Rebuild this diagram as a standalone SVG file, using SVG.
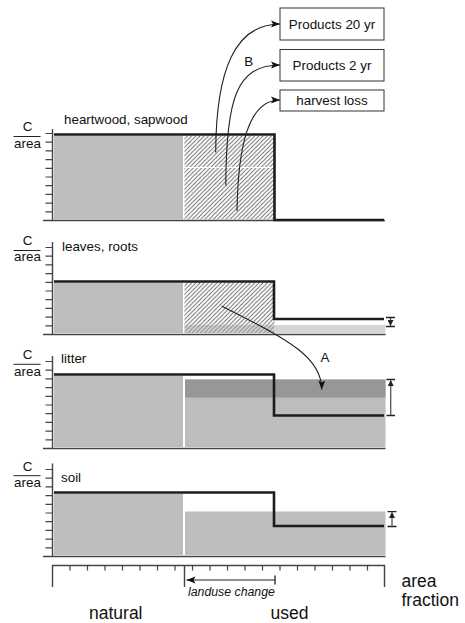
<svg xmlns="http://www.w3.org/2000/svg" width="465" height="623" viewBox="0 0 465 623">
<style>
text{font-family:"Liberation Sans",Arial,sans-serif;fill:#111}
.lab{font-size:13.4px}
.big{font-size:17.5px}
.ax{stroke:#444;stroke-width:1.4;fill:none}
.tk{stroke:#444;stroke-width:1.2;fill:none}
.step{stroke:#1c1c1c;stroke-width:2.6;fill:none}
.g{fill:#bdbdbd}
.lg{fill:#d4d4d4}
.dg{fill:#979797}
.hatch{fill:url(#hat)}
.box{fill:#fff;stroke:#333;stroke-width:1}
.con{stroke:#222;stroke-width:1.1;fill:none}
.err{stroke:#555;stroke-width:1.3;fill:none}
.cap{stroke:#222;stroke-width:1.3;fill:none}
</style>
<defs>
<pattern id="hat" patternUnits="userSpaceOnUse" width="4.2" height="4.2">
<rect width="4.2" height="4.2" fill="#fff"/>
<path d="M-1,1.05 L1.05,-1 M0,4.2 L4.2,0 M3.15,5.25 L5.25,3.15" stroke="#5e5e5e" stroke-width="0.85"/>
</pattern>
<pattern id="hatg" patternUnits="userSpaceOnUse" width="4.2" height="4.2">
<rect width="4.2" height="4.2" fill="#d4d4d4"/>
<path d="M-1,1.05 L1.05,-1 M0,4.2 L4.2,0 M3.15,5.25 L5.25,3.15" stroke="#808080" stroke-width="0.85"/>
</pattern>
<marker id="ah" markerWidth="10" markerHeight="8" refX="9" refY="4" orient="auto" markerUnits="userSpaceOnUse">
<path d="M0,0.5 L9,4 L0,7.5 L2,4 Z" fill="#111"/>
</marker>
<marker id="sa" markerWidth="6" markerHeight="6" refX="5.5" refY="3" orient="auto" markerUnits="userSpaceOnUse">
<path d="M0,0 L6,3 L0,6 Z" fill="#222"/>
</marker>
</defs>

<!-- Panel 1: heartwood, sapwood -->
<g id="panel-heartwood">
<rect class="g" x="54" y="135.8" width="129" height="83.5"/>
<rect class="hatch" x="184.5" y="135.8" width="90" height="83.5"/>
<line x1="184.5" y1="167.5" x2="273.5" y2="167.5" stroke="#fff" stroke-width="1.2"/>
<path class="ax" d="M52.5,129 V220.5 M43,220.5 H385"/>
<path class="tk" d="M45.5,133.5 H52.5 M45.5,142.2 H52.5 M45.5,150.9 H52.5 M45.5,159.6 H52.5 M45.5,168.3 H52.5 M45.5,177 H52.5 M45.5,185.7 H52.5 M45.5,194.4 H52.5 M45.5,203.1 H52.5 M45.5,211.8 H52.5"/>
<path class="step" d="M54,134.5 H274.5 V220 H384"/>
<text class="lab" x="27.5" y="131" text-anchor="middle">C</text>
<line x1="13.5" y1="136.5" x2="40.5" y2="136.5" stroke="#222" stroke-width="1"/>
<text class="lab" x="27.5" y="148" text-anchor="middle">area</text>
<text class="lab" x="64" y="124">heartwood, sapwood</text>
</g>

<!-- Panel 2: leaves, roots -->
<g id="panel-leaves">
<rect class="g" x="54" y="282.8" width="129" height="50.2"/>
<rect class="hatch" x="184.5" y="282.8" width="90" height="41.7"/>
<rect x="184.5" y="324.5" width="90" height="8.5" fill="url(#hatg)"/>
<rect class="lg" x="274.5" y="325" width="111" height="8"/>
<path class="ax" d="M52.5,242 V334.5 M43,334.5 H385.5"/>
<path class="tk" d="M45.5,247.5 H52.5 M45.5,256.2 H52.5 M45.5,264.9 H52.5 M45.5,273.6 H52.5 M45.5,282.3 H52.5 M45.5,291 H52.5 M45.5,299.7 H52.5 M45.5,308.4 H52.5 M45.5,317.1 H52.5 M45.5,325.8 H52.5"/>
<path class="step" d="M54,281.5 H274 V319 H384"/>
<text class="lab" x="27.5" y="244.5" text-anchor="middle">C</text>
<line x1="13.5" y1="250.5" x2="40.5" y2="250.5" stroke="#222" stroke-width="1"/>
<text class="lab" x="27.5" y="261" text-anchor="middle">area</text>
<text class="lab" x="62" y="250.5">leaves, roots</text>
<path class="err" d="M390.5,317.5 V325.5" marker-end="url(#sa)"/>
<path class="cap" d="M386,317.5 H395 M386,326.5 H395"/>
</g>

<!-- Panel 3: litter -->
<g id="panel-litter">
<rect class="g" x="54" y="375.8" width="129" height="71.2"/>
<rect class="g" x="185" y="379.5" width="200.5" height="67.5"/>
<rect class="dg" x="185" y="379.5" width="200.5" height="18"/>
<path class="ax" d="M52.5,356 V448.5 M43,448.5 H385.5"/>
<path class="tk" d="M45.5,361.5 H52.5 M45.5,370.2 H52.5 M45.5,378.9 H52.5 M45.5,387.6 H52.5 M45.5,396.3 H52.5 M45.5,405 H52.5 M45.5,413.7 H52.5 M45.5,422.4 H52.5 M45.5,431.1 H52.5 M45.5,439.8 H52.5"/>
<path class="step" d="M54,374.5 H274 V415.5 H384"/>
<text class="lab" x="27.5" y="358.5" text-anchor="middle">C</text>
<line x1="13.5" y1="364.3" x2="40.5" y2="364.3" stroke="#222" stroke-width="1"/>
<text class="lab" x="27.5" y="375.5" text-anchor="middle">area</text>
<text class="lab" x="61" y="362.5">litter</text>
<path class="err" d="M390.7,415.5 V380.5" marker-end="url(#sa)"/>
<path class="cap" d="M386.5,379.5 H395 M386.5,415.5 H395"/>
</g>

<!-- Panel 4: soil -->
<g id="panel-soil">
<rect class="g" x="54" y="493.8" width="129" height="61.2"/>
<rect class="g" x="185" y="511.5" width="200.5" height="43.5"/>
<path class="ax" d="M52.5,463.5 V556.5 M43,556.5 H385.5"/>
<path class="tk" d="M45.5,469.5 H52.5 M45.5,478.2 H52.5 M45.5,486.9 H52.5 M45.5,495.6 H52.5 M45.5,504.3 H52.5 M45.5,513 H52.5 M45.5,521.7 H52.5 M45.5,530.4 H52.5 M45.5,539.1 H52.5 M45.5,547.8 H52.5"/>
<path class="step" d="M54,492.5 H274 V526 H384"/>
<text class="lab" x="27.5" y="470.5" text-anchor="middle">C</text>
<line x1="13.5" y1="475.7" x2="40.5" y2="475.7" stroke="#222" stroke-width="1"/>
<text class="lab" x="27.5" y="487" text-anchor="middle">area</text>
<text class="lab" x="61" y="482">soil</text>
<path class="err" d="M392,526.5 V512.5" marker-end="url(#sa)"/>
<path class="cap" d="M387.5,511.7 H396.5 M387.5,526.5 H396.5"/>
</g>

<!-- Product boxes -->
<g id="box-products20">
<rect class="box" x="280" y="8" width="104" height="32"/>
<text class="lab" x="332" y="29" text-anchor="middle">Products 20 yr</text>
</g>
<g id="box-products2">
<rect class="box" x="280" y="49.5" width="104" height="31.5"/>
<text class="lab" x="332" y="70" text-anchor="middle">Products 2 yr</text>
</g>
<g id="box-harvestloss">
<rect class="box" x="280" y="90" width="104" height="21"/>
<text class="lab" x="332" y="105.3" text-anchor="middle">harvest loss</text>
</g>

<!-- Area fraction axis -->
<g id="area-axis">
<path class="ax" d="M52.5,587 V565.5 H384.5 V587 M184.5,565.5 V587"/>
<path class="tk" d="M70,565.5 v5 M87.5,565.5 v5 M105,565.5 v5 M122.5,565.5 v5 M140,565.5 v5 M157.5,565.5 v5 M175,565.5 v5 M192.5,565.5 v5 M210,565.5 v5 M227.5,565.5 v5 M245,565.5 v5 M262.5,565.5 v5 M280,565.5 v5 M297.5,565.5 v5 M315,565.5 v5 M332.5,565.5 v5 M350,565.5 v5 M367.5,565.5 v5"/>
<path class="con" d="M275,580 H186.5" marker-end="url(#ah)"/>
<path class="cap" d="M275,575.5 V584.5"/>
<text x="188" y="596" font-size="12.3" font-style="italic">landuse change</text>
<text class="big" x="89" y="619">natural</text>
<text class="big" x="270.5" y="619">used</text>
<text class="big" x="401.5" y="586.5">area</text>
<text class="big" x="401.5" y="605.5">fraction</text>
</g>

<!-- Connectors -->
<g id="connectors">
<path class="con" d="M215.7,152.5 C216,70 235,24 280,24" marker-end="url(#ah)"/>
<path class="con" d="M225.8,185.5 C226,100 236,65 280,65" marker-end="url(#ah)"/>
<path class="con" d="M237,211 C238,150 247,100 280,100" marker-end="url(#ah)"/>
<path class="con" d="M221.7,306 C282,337 322,355 321.7,389.5" marker-end="url(#ah)"/>
<text class="lab" x="248.7" y="65.5" text-anchor="middle">B</text>
<text class="lab" x="325" y="362" text-anchor="middle">A</text>
</g>
</svg>
